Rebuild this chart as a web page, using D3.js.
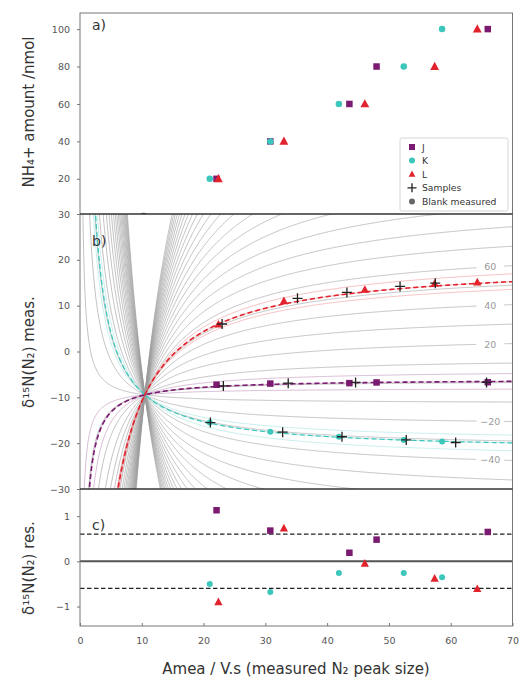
<!DOCTYPE html>
<html><head><meta charset="utf-8">
<script src="https://cdn.jsdelivr.net/npm/d3@7"></script>
<style>
body{margin:0;background:#fff}
svg{display:block}
text{font-family:"DejaVu Sans",sans-serif}
</style>
</head><body>
<svg id="chart" width="522" height="683"></svg>
<script>
// ---------------- data ----------------
const nh4Amounts = [20, 40, 60, 80, 100];
const areaJ = [22.1, 30.8, 43.6, 48.0, 66.0];
const areaK = [21.0, 30.8, 41.9, 52.4, 58.6];
const areaL = [22.4, 33.0, 46.1, 57.4, 64.3];
const deltaJ = [-7.25, -7.0, -6.9, -6.75, -6.7];
const deltaK = [-15.5, -17.5, -18.6, -19.3, -19.65];
const deltaL = [5.9, 11.0, 13.5, 14.8, 15.1];
const resJ = [1.13, 0.68, 0.19, 0.48, 0.65];
const resK = [-0.5, -0.68, -0.26, -0.26, -0.35];
const resL = [-0.9, 0.73, -0.05, -0.38, -0.61];
const sampleArea  = [23.0, 35.2, 43.2, 51.8, 57.5, 23.2, 33.7, 44.6, 65.8, 21.1, 32.8, 42.4, 52.8, 60.8];
const sampleDelta = [6.0, 11.6, 12.9, 14.2, 14.9, -7.5, -6.9, -6.75, -6.75, -15.5, -17.6, -18.6, -19.3, -19.85];
const blankArea = [10.3];
const blankAmount = [0];
// blank / mixing model parameters
const blankPeak = 10.5;     // A of blank
const blankDelta = -9.45;   // δ15N of blank
const azideDelta = -12.6;   // δ15N of the second N source
// fitted δ15N(NH4+) of each series
const fitNames = ["J", "K", "L"];
const fitNH4 = [0.6, -31.0, 51.8];
const fitBand = [4, 4, 4];
const fitWidth = [1.6, 1.2, 1.6];
// contour levels of δ15N(NH4+)
const contourLevels = [-220,-210,-200,-190,-180,-170,-160,-150,-140,-130,-120,-110,-100,-90,-80,-70,-60,-50,-40,-30,-20,-10,0,10,20,30,40,50,60,70,80,90,100,110,120,130,140,150,160,170,180,190,200,210,220,230,240,250,260];
const labelledLevels = [60, 40, 20, -20, -40];
const resLimit = [0.6, -0.6];
const xTicks = [0, 10, 20, 30, 40, 50, 60, 70];

const colors = {J: "#7a1a70", K: "#3cc6bc", L: "#e2222c"};

// ---------------- layout ----------------
const svg = d3.select("#chart");
const L0 = 80, R0 = 512.5;
const x = d3.scaleLinear().domain([0, 70]).range([L0, R0]);
const ya = d3.scaleLinear().domain([1.2, 108.6]).range([214, 13]);
const yb = d3.scaleLinear().domain([-30, 30]).range([489, 214]);
const yc = d3.scaleLinear().domain([-1.43, 1.6]).range([626, 489]);

const defs = svg.append("defs");
function clip(id, y0, y1) {
  defs.append("clipPath").attr("id", id).append("rect")
    .attr("x", L0).attr("y", y0).attr("width", R0 - L0).attr("height", y1 - y0);
}
clip("ca", 13, 214); clip("cb", 214, 489); clip("cc", 489, 626);

// model: measured δ for a NH4+ δ level at peak area A
function model(A, lev) {
  const c = (lev + azideDelta) / 2;
  return (blankDelta * blankPeak + c * (A - blankPeak)) / A;
}
function curvePoints(lev) {
  const c = (lev + azideDelta) / 2;
  const K = blankPeak * (blankDelta - c);
  const edge = K > 0 ? 40 : -40;
  let A0 = K / (edge - c);
  if (!(A0 > 0.01)) A0 = 0.01;
  const n = 700, pts = [];
  for (let i = 0; i <= n; i++) {
    const A = A0 + (70.5 - A0) * i / n;
    pts.push({A: A, d: model(A, lev)});
  }
  return pts;
}

// ---------------- markers ----------------
function marker(g, type, cx, cy, color, size) {
  if (type === "square") {
    g.append("rect").attr("x", cx - size/2).attr("y", cy - size/2).attr("width", size).attr("height", size).attr("fill", color);
  } else if (type === "circle") {
    g.append("circle").attr("cx", cx).attr("cy", cy).attr("r", size/2).attr("fill", color);
  } else if (type === "triangle") {
    const h = size;
    g.append("path").attr("d", `M${cx},${cy - h*0.6}L${cx + h*0.55},${cy + h*0.42}L${cx - h*0.55},${cy + h*0.42}Z`).attr("fill", color);
  } else if (type === "cross") {
    g.append("path").attr("d", `M${cx - size/2},${cy}H${cx + size/2}M${cx},${cy - size/2}V${cy + size/2}`)
      .attr("stroke", color).attr("stroke-width", 1.3).attr("fill", "none");
  }
}

// ---------------- panel a ----------------
const ga = svg.append("g").attr("clip-path", "url(#ca)");
blankArea.forEach((a, i) => ga.append("circle").attr("cx", x(a)).attr("cy", ya(blankAmount[i])).attr("r", 3.6).attr("fill", "#555"));
nh4Amounts.forEach((v, i) => marker(ga, "square", x(areaJ[i]), ya(v), colors.J, 6.5));
nh4Amounts.forEach((v, i) => marker(ga, "circle", x(areaK[i]), ya(v), colors.K, 6.5));
nh4Amounts.forEach((v, i) => marker(ga, "triangle", x(areaL[i]), ya(v), colors.L, 8));

// ---------------- panel b ----------------
const gb = svg.append("g").attr("clip-path", "url(#cb)");
const labA = 66.4;
contourLevels.forEach(lev => {
  const lab = labelledLevels.includes(lev);
  const gen = d3.line().x(d => x(d.A)).y(d => yb(d.d))
    .defined(d => !lab || !(d.A > labA - 2.2 && d.A < labA + 2.2));
  gb.append("path").attr("d", gen(curvePoints(lev)))
    .attr("fill", "none").attr("stroke", "#9a9a9a").attr("stroke-width", 0.7).attr("stroke-opacity", 0.85);
});
labelledLevels.forEach(lev => {
  gb.append("text").attr("x", x(labA)).attr("y", yb(model(labA, lev)))
    .attr("text-anchor", "middle").attr("dominant-baseline", "central")
    .attr("font-size", 9.5).attr("fill", "#9a9a9a").text(d3.format("d")(lev));
});
// uncertainty bands
fitNames.forEach((nm, i) => {
  [fitNH4[i] - fitBand[i], fitNH4[i] + fitBand[i]].forEach(lev => {
    gb.append("path").attr("d", d3.line().x(d => x(d.A)).y(d => yb(d.d))(curvePoints(lev)))
      .attr("fill", "none").attr("stroke", colors[nm]).attr("stroke-width", 0.7).attr("stroke-opacity", 0.4);
  });
});
// fitted curves
fitNames.forEach((nm, i) => {
  const p = d3.line().x(d => x(d.A)).y(d => yb(d.d))(curvePoints(fitNH4[i]));
  gb.append("path").attr("d", p).attr("fill", "none").attr("stroke", colors[nm]).attr("stroke-width", 1.1).attr("stroke-opacity", 0.25);
  gb.append("path").attr("d", p).attr("fill", "none").attr("stroke", colors[nm]).attr("stroke-width", fitWidth[i]).attr("stroke-dasharray", "5,3");
});
areaJ.forEach((a, i) => marker(gb, "square", x(a), yb(deltaJ[i]), colors.J, 6.5));
areaK.forEach((a, i) => marker(gb, "circle", x(a), yb(deltaK[i]), colors.K, 6));
areaL.forEach((a, i) => marker(gb, "triangle", x(a), yb(deltaL[i]), colors.L, 7.5));
sampleArea.forEach((a, i) => marker(gb, "cross", x(a), yb(sampleDelta[i]), "#222", 10));

// ---------------- panel c ----------------
const gc = svg.append("g").attr("clip-path", "url(#cc)");
gc.append("line").attr("x1", L0).attr("x2", R0).attr("y1", yc(0)).attr("y2", yc(0)).attr("stroke", "#555").attr("stroke-width", 2);
resLimit.forEach(v => gc.append("line").attr("x1", L0).attr("x2", R0).attr("y1", yc(v)).attr("y2", yc(v))
  .attr("stroke", "#222").attr("stroke-width", 1.3).attr("stroke-dasharray", "4.5,2.5"));
areaJ.forEach((a, i) => marker(gc, "square", x(a), yc(resJ[i]), colors.J, 6.5));
areaK.forEach((a, i) => marker(gc, "circle", x(a), yc(resK[i]), colors.K, 6));
areaL.forEach((a, i) => marker(gc, "triangle", x(a), yc(resL[i]), colors.L, 7.5));

// ---------------- frames & axes ----------------
const fr = svg.append("g");
fr.append("rect").attr("x", L0).attr("y", 13).attr("width", R0 - L0).attr("height", 626 - 13)
  .attr("fill", "none").attr("stroke", "#777").attr("stroke-width", 1);
[214, 489].forEach(y => fr.append("line").attr("x1", L0).attr("x2", R0).attr("y1", y).attr("y2", y).attr("stroke", "#333").attr("stroke-width", 1.4));

const fmt = d3.format("d");
function styleAxis(g) {
  g.select(".domain").remove();
  g.selectAll(".tick line").attr("stroke", "#777");
  g.selectAll(".tick text").attr("fill", "#555").attr("font-size", 9.5).attr("font-family", "DejaVu Sans");
}
svg.append("g").attr("transform", `translate(${L0},0)`)
  .call(d3.axisLeft(ya).tickValues(nh4Amounts).tickSize(3).tickPadding(7).tickFormat(fmt)).call(styleAxis);
svg.append("g").attr("transform", `translate(${L0},0)`)
  .call(d3.axisLeft(yb).tickValues([-30, -20, -10, 0, 10, 20, 30]).tickSize(3).tickPadding(7).tickFormat(fmt)).call(styleAxis);
svg.append("g").attr("transform", `translate(${L0},0)`)
  .call(d3.axisLeft(yc).tickValues([-1, 0, 1]).tickSize(3).tickPadding(7).tickFormat(fmt)).call(styleAxis);
svg.append("g").attr("transform", `translate(0,626)`)
  .call(d3.axisBottom(x).tickValues(xTicks).tickSizeInner(-3).tickSizeOuter(0).tickPadding(11).tickFormat(fmt)).call(styleAxis);

// panel letters
[["a)", 30], ["b)", 246], ["c)", 530]].forEach(([t, y]) =>
  svg.append("text").attr("x", 92).attr("y", y).attr("font-size", 14).attr("fill", "#333").text(t));

// axis titles
function ytitle(t, cy) {
  svg.append("text").attr("transform", `translate(34,${cy}) rotate(-90)`).attr("text-anchor", "middle")
    .attr("font-size", 15).attr("fill", "#333").text(t);
}
ytitle("NH\u2084+ amount /nmol", 112);
ytitle("\u03b4\u00b9\u2075N(N\u2082) meas.", 352);
ytitle("\u03b4\u00b9\u2075N(N\u2082) res.", 568);
svg.append("text").attr("x", 296).attr("y", 674).attr("text-anchor", "middle")
  .attr("font-size", 15).attr("fill", "#333").text("Amea / V.s (measured N\u2082 peak size)");

// ---------------- legend ----------------
const lg = svg.append("g");
lg.append("rect").attr("x", 400).attr("y", 138).attr("width", 108).attr("height", 73).attr("rx", 2)
  .attr("fill", "#fff").attr("fill-opacity", 0.85).attr("stroke", "#ccc").attr("stroke-width", 0.8);
const legItems = [["square", colors.J, "J"], ["circle", colors.K, "K"], ["triangle", colors.L, "L"], ["cross", "#222", "Samples"], ["circle", "#666", "Blank measured"]];
legItems.forEach(([type, col, label], i) => {
  const cy = 147 + i * 13.6;
  marker(lg, type, 412, cy, col, type === "cross" ? 9 : 6);
  lg.append("text").attr("x", 422).attr("y", cy).attr("dominant-baseline", "central")
    .attr("font-size", 9.2).attr("fill", "#333").text(label);
});
</script>
</body></html>
